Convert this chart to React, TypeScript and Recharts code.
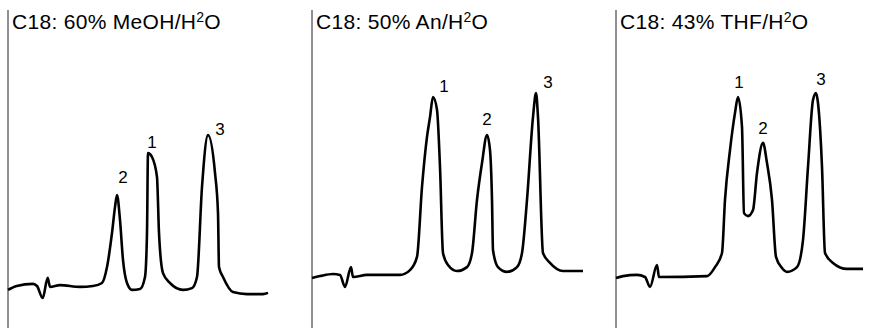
import { LineChart, Line, XAxis, YAxis, ReferenceLine, ReferenceDot } from "recharts";

// retention time (min) and detector signal (mAU)
const TIME_MEOH = [0, 0.87, 2.5, 2.9, 3.47, 3.97, 4.2, 5.2, 7.2, 8.5, 9.4, 9.9, 10.4, 10.7, 10.9, 11.2, 11.5, 11.9, 12.4, 13.2, 13.7, 13.9, 14.0, 14.4, 14.9, 15.1, 15.5, 16.2, 17.5, 18.4, 18.9, 19.4, 20.0, 20.7, 21.0, 21.1, 21.5, 22.5, 23.9, 25.5, 26.0];
const SIGNAL_MEOH = [12.7, 14, 14.7, 14, 10, 16.7, 13.7, 14.3, 13.7, 14, 15, 20.3, 31.7, 40.3, 44.3, 36, 22.7, 15, 12.7, 13, 17, 31.7, 58.3, 57, 50.3, 31.7, 18.3, 15, 12.7, 13.3, 17, 47, 64.3, 51.7, 38.3, 20.3, 17, 12, 11.3, 11.3, 11.7];
const PEAKS_MEOH = ["2", "1", "3"];
const PEAK_TIMES_MEOH = [10.9, 14.0, 20.0];

const TIME_AN = [0, 0.8, 2.1, 2.8, 3.3, 3.9, 4.1, 5.5, 8.8, 9.8, 10.5, 11.0, 11.5, 11.8, 12.1, 12.5, 12.8, 13.1, 13.6, 14.5, 15.5, 16.0, 16.5, 17.0, 17.5, 17.8, 18.0, 18.1, 18.6, 19.5, 20.5, 21.0, 21.5, 22.1, 22.4, 22.6, 23.1, 23.8, 25.1, 27.1];
const SIGNAL_AN = [16.7, 17.3, 18, 17.7, 13.7, 20.3, 17, 17.7, 17.7, 19.3, 23.7, 47, 63.7, 70.3, 77, 72.7, 53.7, 25, 21, 19, 20.3, 25, 42.7, 55, 64.3, 59.3, 42.7, 26, 20.3, 18.7, 20.3, 25, 42.7, 70.3, 78.3, 70.3, 25, 21.7, 19, 19];
const PEAKS_AN = ["1", "2", "3"];
const PEAK_TIMES_AN = [12.1, 17.5, 22.4];

const TIME_THF = [0, 0.7, 2.1, 2.9, 3.4, 4.1, 4.3, 9.1, 9.9, 10.6, 10.9, 11.4, 11.9, 12.2, 12.6, 12.8, 13.2, 13.7, 14.1, 14.7, 15.1, 15.6, 16.0, 16.6, 17.1, 18.1, 18.7, 19.2, 19.7, 20.0, 20.2, 20.6, 20.9, 21.7, 23.1, 24.7];
const SIGNAL_THF = [16.7, 17.3, 17.7, 17, 13.7, 21, 17, 17.3, 20.3, 25, 42.7, 59.3, 71.7, 77, 67, 38.3, 37.3, 39.3, 51.7, 61.7, 55, 42.7, 23.7, 20, 18.7, 20.3, 29.3, 53.7, 76, 78.3, 75, 53.7, 25, 21.7, 19.7, 19.7];
const PEAKS_THF = ["1", "2", "3"];
const PEAK_TIMES_THF = [12.2, 14.7, 20.0];

const FONT = '"Liberation Sans", Arial, Helvetica, sans-serif';

type Panel = {
  solvent: string;
  left: number;
  time: number[];
  signal: number[];
  peaks: string[];
  peakTimes: number[];
  labelOffsets: [number, number][];
};

const panels: Panel[] = [
  {
    solvent: "60% MeOH",
    left: 8,
    time: TIME_MEOH,
    signal: SIGNAL_MEOH,
    peaks: PEAKS_MEOH,
    peakTimes: PEAK_TIMES_MEOH,
    labelOffsets: [[6, -12], [4, -5], [12, 0]],
  },
  {
    solvent: "50% An",
    left: 312,
    time: TIME_AN,
    signal: SIGNAL_AN,
    peaks: PEAKS_AN,
    peakTimes: PEAK_TIMES_AN,
    labelOffsets: [[11, -5], [0, -10], [12, -5]],
  },
  {
    solvent: "43% THF",
    left: 616,
    time: TIME_THF,
    signal: SIGNAL_THF,
    peaks: PEAKS_THF,
    peakTimes: PEAK_TIMES_THF,
    labelOffsets: [[1, -9], [0, -9], [5, -8]],
  },
];

const Chromatogram = ({ panel }: { panel: Panel }) => {
  const data = panel.time.map((t, i) => ({ t, signal: panel.signal[i] }));

  return (
    <div style={{ position: "absolute", left: panel.left - 2, top: 0 }}>
      <LineChart
        width={290}
        height={329}
        data={data}
        margin={{ top: 10, right: 8, bottom: 1, left: 2 }}
      >
        <XAxis dataKey="t" type="number" domain={[0, 28]} hide />
        <YAxis type="number" domain={[0, 106]} hide />
        <ReferenceLine x={0} stroke="#222" strokeWidth={1} />
        <Line
          type="monotone"
          dataKey="signal"
          stroke="#000"
          strokeWidth={2.6}
          dot={false}
          isAnimationActive={false}
        />
        {panel.peaks.map((name, i) => {
          const t = panel.peakTimes[i];
          const y = panel.signal[panel.time.indexOf(t)];
          const [dx, dy] = panel.labelOffsets[i];
          return (
            <ReferenceDot
              key={name}
              x={t}
              y={y}
              r={1}
              fill="none"
              stroke="none"
              label={(props: any) => {
                const vb = props.viewBox;
                return (
                  <text
                    x={vb.x + vb.width / 2 + dx}
                    y={vb.y + vb.height / 2 + dy}
                    textAnchor="middle"
                    style={{ fontSize: 17, fontFamily: FONT, fill: "#000" }}
                  >
                    {name}
                  </text>
                );
              }}
            />
          );
        })}
      </LineChart>
      <div
        style={{
          position: "absolute",
          left: 6,
          top: 12,
          fontFamily: FONT,
          fontSize: 21,
          letterSpacing: 0.3,
          lineHeight: "20px",
          whiteSpace: "nowrap",
          color: "#000",
        }}
      >
        C18: {panel.solvent}/H
        <sup style={{ fontSize: 14, lineHeight: 0, verticalAlign: 7 }}>2</sup>O
      </div>
    </div>
  );
};

export default function App() {
  return (
    <div
      style={{
        position: "absolute",
        left: 0,
        top: 0,
        width: 889,
        height: 329,
        background: "#fff",
      }}
    >
      {panels.map((p) => (
        <Chromatogram key={p.solvent} panel={p} />
      ))}
    </div>
  );
}
